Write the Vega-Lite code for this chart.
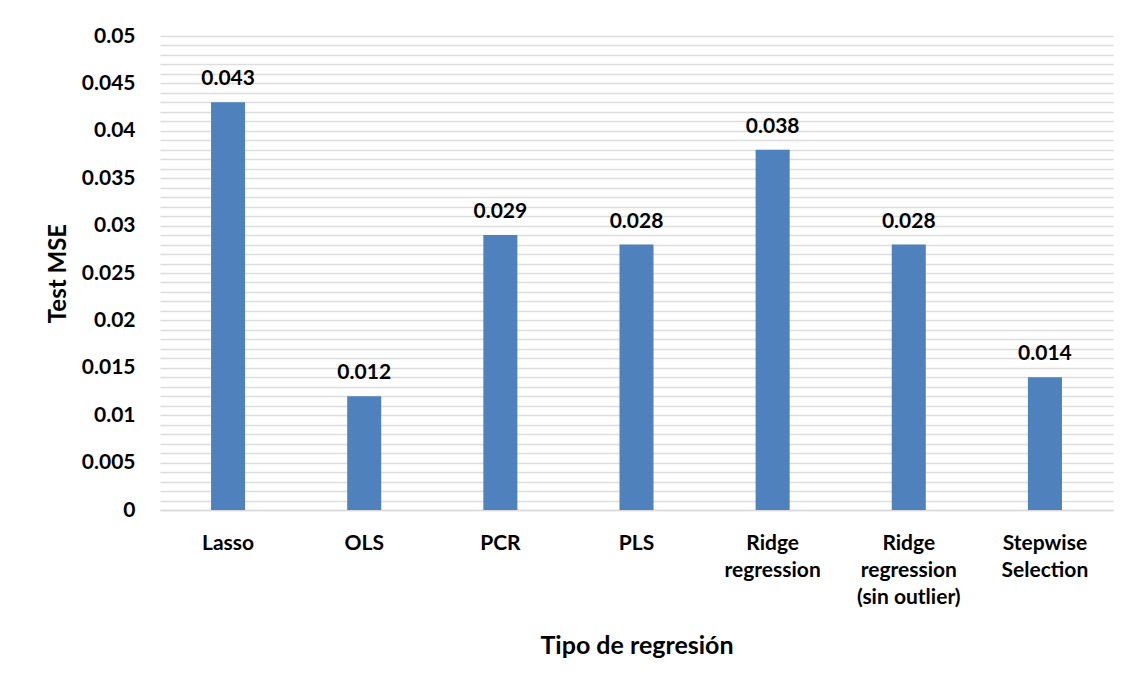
{
  "$schema": "https://vega.github.io/schema/vega-lite/v6.json",
  "width": 953,
  "height": 474,
  "autosize": {"type": "none"},
  "padding": {"left": 160, "top": 36, "right": 22, "bottom": 173},
  "background": "white",
  "config": {
    "view": {"stroke": null},
    "font": "Lato"
  },
  "data": {
    "values": [
      {"metodo": "Lasso", "mse": 0.043},
      {"metodo": "OLS", "mse": 0.012},
      {"metodo": "PCR", "mse": 0.029},
      {"metodo": "PLS", "mse": 0.028},
      {"metodo": "Ridge regression", "mse": 0.038},
      {"metodo": "Ridge regression (sin outlier)", "mse": 0.028},
      {"metodo": "Stepwise Selection", "mse": 0.014}
    ]
  },
  "encoding": {
    "x": {
      "field": "metodo",
      "type": "nominal",
      "sort": null,
      "scale": {"paddingInner": 0.75, "paddingOuter": 0.375},
      "axis": {
        "title": "Tipo de regresión",
        "titleFont": "Lato",
        "titleFontSize": 25,
        "titleFontWeight": "bold",
        "titleColor": "#000000",
        "titlePadding": 26,
        "labelAngle": 0,
        "labelFont": "Lato",
        "labelFontSize": 21,
        "labelFontWeight": "bold",
        "labelColor": "#000000",
        "labelPadding": 22,
        "labelLineHeight": 27,
        "labelExpr": "datum.value == 'Ridge regression' ? ['Ridge', 'regression'] : datum.value == 'Ridge regression (sin outlier)' ? ['Ridge', 'regression', '(sin outlier)'] : datum.value == 'Stepwise Selection' ? ['Stepwise', 'Selection'] : datum.value",
        "ticks": false,
        "domain": true,
        "domainColor": "#d9d9d9",
        "domainWidth": 1.5,
        "grid": false
      }
    },
    "y": {
      "field": "mse",
      "type": "quantitative",
      "scale": {"domain": [0, 0.05], "nice": false, "zero": true},
      "axis": {
        "title": "Test MSE",
        "titleFont": "Lato",
        "titleFontSize": 24,
        "titleFontWeight": "bold",
        "titleColor": "#000000",
        "titlePadding": 11,
        "values": [0,0.001,0.002,0.003,0.004,0.005,0.006,0.007,0.008,0.009,0.01,0.011,0.012,0.013,0.014,0.015,0.016,0.017,0.018,0.019,0.02,0.021,0.022,0.023,0.024,0.025,0.026,0.027,0.028,0.029,0.03,0.031,0.032,0.033,0.034,0.035,0.036,0.037,0.038,0.039,0.04,0.041,0.042,0.043,0.044,0.045,0.046,0.047,0.048,0.049,0.05],
        "labelExpr": "abs(datum.value*200 - round(datum.value*200)) < 1e-6 ? format(datum.value, '~g') : ''",
        "labelFont": "Lato",
        "labelFontSize": 21,
        "labelFontWeight": "bold",
        "labelColor": "#000000",
        "labelPadding": 25,
        "labelOverlap": false,
        "labelBound": false,
        "ticks": false,
        "domain": false,
        "grid": true,
        "gridWidth": 1.5,
        "encode": {
          "grid": {
            "update": {
              "stroke": {"signal": "abs(datum.value*200 - round(datum.value*200)) < 1e-6 ? '#d9d9d9' : '#f2f2f2'"}
            }
          }
        }
      }
    }
  },
  "layer": [
    {
      "mark": {"type": "bar", "color": "#4f81bd"}
    },
    {
      "mark": {"type": "text", "baseline": "bottom", "dy": -13, "font": "Lato", "fontSize": 21, "fontWeight": "bold", "color": "#000000"},
      "encoding": {
        "text": {"field": "mse", "type": "quantitative", "format": "~g"}
      }
    }
  ]
}
